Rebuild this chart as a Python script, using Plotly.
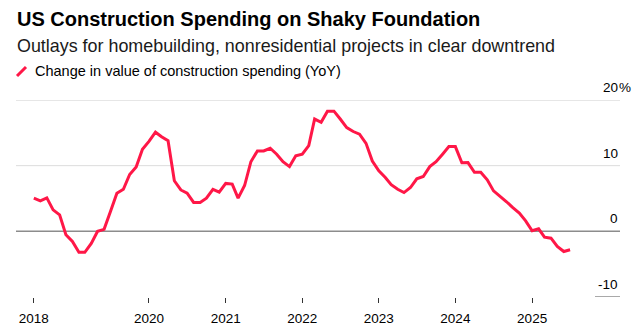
import pandas as pd
import plotly.graph_objects as go

# ---- data ----
start_month = "2018-07-01"
yoy_change = [
    5.05, 4.64, 5.1, 3.27, 2.5, -0.53, -1.55, -3.2, -3.2, -1.85,
    0.0, 0.3, 3.0, 5.8, 6.4, 8.65, 9.8, 12.5, 13.7, 15.1,
    14.4, 13.8, 7.7, 6.3, 5.8, 4.4, 4.4, 5.05, 6.4, 5.96,
    7.3, 7.2, 5.05, 6.97, 10.6, 12.25, 12.25, 12.65, 11.75, 10.6,
    9.86, 11.5, 11.75, 13.06, 17.1, 16.6, 18.3, 18.3, 17.1, 15.8,
    15.2, 14.8, 13.4, 10.7, 9.2, 8.2, 7.1, 6.4, 5.9, 6.67,
    8.0, 8.35, 9.86, 10.6, 11.75, 12.9, 12.9, 10.45, 10.47, 9.0,
    9.0, 7.84, 6.16, 5.4, 4.5, 3.6, 2.77, 1.6, 0.08, 0.38,
    -0.88, -1.04, -2.3, -3.07, -2.8,
]
dates = pd.date_range(start_month, periods=len(yoy_change), freq="MS")

x_tick_vals = ["2018-07-01", "2020-01-01", "2021-01-01", "2022-01-01",
               "2023-01-01", "2024-01-01", "2025-01-01"]
x_tick_text = ["2018", "2020", "2021", "2022", "2023", "2024", "2025"]
y_tick_vals = [20, 10, 0, -10]
y_tick_text = ["20", "10", "0", "-10"]

title = "US Construction Spending on Shaky Foundation"
subtitle = "Outlays for homebuilding, nonresidential projects in clear downtrend"
legend_label = "Change in value of construction spending (YoY)"

# ---- layout constants ----
W, H = 641, 334
ML, MR, MT, MB = 16, 21, 100, 37
PW, PH = W - ML - MR, H - MT - MB
RED = "#ff1747"
FONT = "Liberation Sans, Arial, sans-serif"


def px_x(p):
    return (p - ML) / PW


def px_y(p):
    return (H - MB - p) / PH


fig = go.Figure()
fig.add_trace(go.Scatter(
    x=dates, y=yoy_change, mode="lines",
    line=dict(color=RED, width=3), showlegend=False, hoverinfo="skip",
))

shapes = []
# grid lines
shapes.append(dict(type="line", xref="paper", yref="y", x0=0, x1=1, y0=20, y1=20,
                   line=dict(color="#e6e6e6", width=2), layer="below"))
shapes.append(dict(type="line", xref="paper", yref="y", x0=0, x1=1, y0=10, y1=10,
                   line=dict(color="#dcdcdc", width=1), layer="below"))
shapes.append(dict(type="line", xref="paper", yref="y", x0=0, x1=1, y0=0, y1=0,
                   line=dict(color="#8c8c8c", width=1.5), layer="below"))
shapes.append(dict(type="line", xref="paper", yref="y", x0=px_x(595), x1=1, y0=-10, y1=-10,
                   line=dict(color="#8c8c8c", width=1.5), layer="below"))
# legend icon
shapes.append(dict(type="line", xref="paper", yref="paper",
                   x0=px_x(17), y0=px_y(76), x1=px_x(26), y1=px_y(67),
                   line=dict(color=RED, width=3)))

annotations = [
    dict(text="<b>" + title + "</b>", xref="paper", yref="paper", x=px_x(15), y=px_y(19),
         xanchor="left", yanchor="middle", showarrow=False,
         font=dict(family=FONT, size=20, color="#000000")),
    dict(text=subtitle, xref="paper", yref="paper", x=px_x(15), y=px_y(46),
         xanchor="left", yanchor="middle", showarrow=False,
         font=dict(family=FONT, size=17.9, color="#1a1a1a")),
    dict(text=legend_label, xref="paper", yref="paper", x=px_x(33), y=px_y(71),
         xanchor="left", yanchor="middle", showarrow=False,
         font=dict(family=FONT, size=14.5, color="#000000")),
]
for v, t in zip(y_tick_vals, y_tick_text):
    annotations.append(dict(text=t, xref="paper", yref="y", x=1, y=v,
                            xanchor="right", yanchor="bottom", yshift=3, showarrow=False,
                            font=dict(family=FONT, size=13.5, color="#000000")))
annotations.append(dict(text="%", xref="paper", yref="y", x=1, y=y_tick_vals[0],
                        xanchor="left", yanchor="bottom", yshift=3, xshift=-3, showarrow=False,
                        font=dict(family=FONT, size=13.5, color="#000000")))

fig.update_layout(
    width=W, height=H,
    margin=dict(l=ML, r=MR, t=MT, b=MB, pad=0, autoexpand=False),
    paper_bgcolor="white", plot_bgcolor="white",
    shapes=shapes, annotations=annotations,
    xaxis=dict(type="date", range=["2018-04-07", "2026-02-24"],
               tickvals=x_tick_vals, ticktext=x_tick_text, automargin=False,
               showgrid=False, zeroline=False, showline=False,
               ticks="outside", ticklen=5, tickwidth=1, tickcolor="#333333",
               ticklabelstandoff=4,
               tickfont=dict(family=FONT, size=13.5, color="#000000"), fixedrange=True),
    yaxis=dict(range=[-10, 20], showgrid=False, zeroline=False, showline=False,
               automargin=False,
               showticklabels=False, ticks="", fixedrange=True),
)

fig.write_html("out.html")
